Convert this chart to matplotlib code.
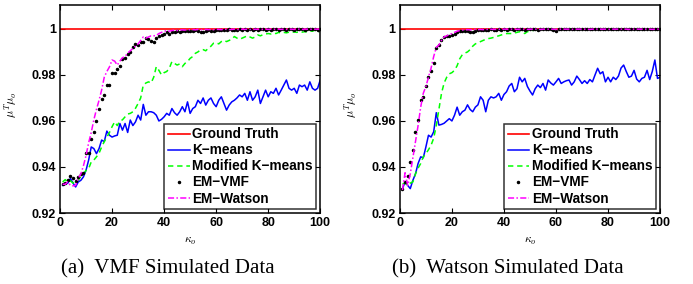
import matplotlib
matplotlib.use("Agg")
import matplotlib.pyplot as plt
import numpy as np

plt.rcParams['font.family'] = ['Liberation Sans', 'DejaVu Sans']
plt.rcParams['mathtext.fontset'] = 'cm'

kappa = list(range(1, 101))

# ---------------- (a) VMF simulated data ----------------
vmf_kmeans = [
    .932, .9325, .933, .935, .933, .9313, .9335, .9342, .9357, .9386,
    .943, .9487, .948, .9458, .948, .9517, .951, .9556, .9538, .953,
    .9535, .9538, .9589, .956, .9589, .955, .9604, .958, .9596, .9625,
    .9604, .9672, .9625, .964, .964, .9636, .9625, .960, .9607, .9618,
    .9633, .9625, .9654, .9636, .9625, .964, .9662, .964, .9683, .9633,
    .9654, .9662, .969, .9676, .970, .9669, .969, .970, .9676, .9662,
    .969, .9705, .9676, .9647, .9669, .9683, .969, .970, .9713, .9705,
    .972, .969, .9727, .969, .9705, .9734, .9676, .9705, .9734, .9705,
    .9727, .972, .9742, .9713, .9734, .9756, .9778, .9742, .9734, .9742,
    .972, .9756, .9749, .9756, .9734, .977, .9742, .9734, .9742, .9778]
vmf_modkmeans = [
    .9335, .9345, .9335, .934, .933, .934, .9342, .936, .937, .9385,
    .9393, .9422, .943, .9444, .946, .9487, .951, .953, .955, .9575,
    .9596, .958, .960, .9605, .9618, .963, .9633, .964, .9655, .9676,
    .970, .9756, .9765, .977, .9765, .979, .9836, .982, .980, .981,
    .9815, .9829, .9858, .985, .9843, .9848, .9836, .985, .9858, .9872,
    .988, .9894, .990, .9909, .991, .9905, .9916, .9925, .9938, .994,
    .9935, .9945, .995, .9945, .995, .9955, .9967, .996, .9955, .996,
    .9965, .997, .9965, .996, .9965, .9974, .997, .9975, .9978, .998,
    .9978, .9982, .998, .9985, .9982, .9985, .9983, .9986, .9984, .9987,
    .9985, .9988, .9986, .9988, .9987, .999, .999, .9995, .9985, .999]
vmf_emvmf = [
    .9325, .933, .9345, .936, .935, .934, .9355, .937, .9375, .946,
    .946, .952, .955, .960, .965, .9695, .9715, .9755, .9758, .981,
    .981, .9825, .984, .987, .9875, .989, .990, .992, .9935, .993,
    .9945, .9945, .996, .9955, .9948, .9945, .996, .997, .9974, .998,
    .9985, .998, .9985, .9985, .999, .9985, .999, .9993, .999, .9992,
    .999, .9995, .9993, .9988, .9985, .9992, .9995, .999, .9993, .9996,
    .9994, .9997, .9995, .9996, .9998, .9995, .9997, .9996, .9998, .9997,
    .9998, .9996, .9999, .9997, .9998, .9996, .9998, .9999, .9997, .9998,
    .9996, .9999, .9998, .9997, .9999, .9998, .9996, .9999, .9998, .9997,
    .9999, .9998, .9999, .9997, .9998, .9999, .9998, .9999, .9997, .9999]
vmf_emwatson = [
    .9325, .9325, .9335, .932, .9318, .932, .935, .937, .9405, .945,
    .9505, .955, .9605, .965, .969, .9735, .979, .9815, .9835, .9865,
    .986, .9843, .986, .9875, .988, .9895, .9905, .9915, .9925, .9935,
    .995, .9965, .996, .9965, .997, .997, .9972, .998, .9985, .999,
    .9992, .999, .9993, .9995, .9993, .9995, .9996, .9995, .9997, .9996,
    .9997, .9996, .9998, .9997, .9996, .9998, .9997, .9998, .9997, .9998,
    .9998, .9997, .9999, .9998, .9997, .9998, .9999, .9998, .9997, .9999,
    .9998, .9999, .9998, .9997, .9999, .9998, .9999, .9998, .9999, .9998,
    .9999, .9998, .9999, .9999, .9998, .9999, .9998, .9999, .9999, .9998,
    .9999, .9999, .9998, .9999, .9999, .9999, .9998, .9999, .9999, .9999]

# ---------------- (b) Watson simulated data ----------------
wat_kmeans = [
    .9306, .9335, .932, .9306, .9342, .937, .9415, .9444, .944, .9487,
    .9538, .953, .9553, .9636, .9582, .9585, .959, .960, .961, .960,
    .9625, .966, .9625, .964, .9647, .967, .965, .964, .966, .967,
    .9705, .969, .964, .969, .9705, .970, .9705, .972, .969, .9715,
    .9727, .9752, .9763, .9727, .974, .979, .977, .9785, .975, .973,
    .9713, .974, .9756, .9745, .9763, .9734, .9778, .9765, .9756, .977,
    .9785, .9763, .977, .9775, .9778, .9756, .977, .9795, .978, .9763,
    .9775, .9763, .978, .977, .980, .9829, .9805, .9814, .977, .979,
    .977, .979, .978, .9795, .983, .9843, .9815, .979, .9795, .982,
    .9782, .977, .9785, .979, .982, .978, .9815, .9865, .9785, .979]
wat_modkmeans = [
    .9325, .933, .932, .933, .9335, .937, .9395, .9415, .9444, .9458,
    .9475, .9495, .9525, .958, .965, .972, .9765, .979, .9805, .981,
    .982, .984, .987, .9888, .9895, .990, .991, .9925, .9935, .994,
    .9945, .995, .9955, .9958, .996, .9963, .9967, .997, .9974, .9977,
    .998, .998, .998, .9982, .9985, .9988, .9985, .998, .9988, .999,
    .9993, .9995, .9997, .9998, .9998, .9999, .9998, .9999, .9999, .9998,
    .9999, .9999, .9998, .9999, .9999, .9999, .9998, .9999, .9999, .9999,
    .9999, .9998, .9999, .9999, .9999, .9999, .9998, .9999, .9999, .9999,
    .9999, .9999, .9998, .9999, .9999, .9999, .9999, .9999, .9998, .9999,
    .9999, .9999, .9999, .9999, .9999, .9998, .9999, .9999, .9999, .9999]
wat_emvmf = [
    .9305, .9335, .936, .942, .9475, .955, .9605, .969, .9705, .975,
    .979, .9815, .985, .9915, .993, .995, .9965, .997, .9968, .9975,
    .998, .9985, .999, .9993, .9992, .999, .9988, .9985, .999, .9995,
    .9996, .9995, .9997, .9996, .9998, .9997, .9996, .9998, .9997, .9998,
    .9997, .9998, .9999, .9997, .9998, .9999, .9998, .9997, .9999, .9998,
    .9999, .9998, .9997, .9999, .9998, .9999, .9998, .9999, .9997, .9993,
    .9998, .9999, .9998, .9999, .9999, .9998, .9999, .9998, .9999, .9999,
    .9998, .9999, .9999, .9998, .9999, .9999, .9999, .9998, .9999, .9999,
    .9999, .9998, .9999, .9999, .9999, .9999, .9998, .9999, .9999, .9999,
    .9999, .9999, .9998, .9999, .9999, .9999, .9999, .9999, .9998, .9999]
wat_emwatson = [
    .930, .9375, .932, .937, .944, .951, .958, .966, .972, .975,
    .979, .983, .988, .992, .993, .995, .9965, .997, .9975, .998,
    .9985, .999, .9993, .9995, .9996, .9997, .9996, .9997, .9998, .9997,
    .9998, .9997, .9998, .9998, .9999, .9998, .9998, .9999, .9998, .9999,
    .9999, .9998, .9999, .9999, .9998, .9999, .9999, .9999, .9998, .9999,
    .9999, .9999, .9999, .9998, .9999, .9999, .9999, .9999, .9999, .9998,
    .9999, .9999, .9999, .9999, .9999, .9998, .9999, .9999, .9999, .9999,
    .9999, .9999, .9998, .9999, .9999, .9999, .9999, .9999, .9999, .9998,
    .9999, .9999, .9999, .9999, .9999, .9999, .9999, .9998, .9999, .9999,
    .9999, .9999, .9999, .9999, .9999, .9999, .9998, .9999, .9999, .9999]

ground_truth = 1.0
legend_labels = ["Ground Truth", "K\u2212means", "Modified K\u2212means",
                 "EM\u2212VMF", "EM\u2212Watson"]
captions = ["(a)  VMF Simulated Data", "(b)  Watson Simulated Data"]
xticks = [0, 20, 40, 60, 80, 100]
yticks = [0.92, 0.94, 0.96, 0.98, 1.0]
yticklabels = ["0.92", "0.94", "0.96", "0.98", "1"]

fig = plt.figure(figsize=(6.93, 2.84), dpi=100)
positions = [[0.0866, 0.25, 0.3755, 0.7324], [0.577, 0.25, 0.3755, 0.7324]]
datasets = [(vmf_kmeans, vmf_modkmeans, vmf_emvmf, vmf_emwatson),
            (wat_kmeans, wat_modkmeans, wat_emvmf, wat_emwatson)]
caption_x = [168 / 693, 508 / 693]

for pos, (km, mkm, evmf, ewat), cx, cap in zip(positions, datasets, caption_x, captions):
    ax = fig.add_axes(pos)
    ax.plot([0, 100], [ground_truth, ground_truth], color='#ff0000', lw=1.2,
            label=legend_labels[0])
    ax.plot(kappa, km, color='#0000ff', lw=1.1, label=legend_labels[1])
    ax.plot(kappa, mkm, color='#00ff00', lw=1.1, ls=(0, (3.5, 2.5)),
            label=legend_labels[2])
    ax.plot(kappa, evmf, ls='none', marker='.', ms=3.0, color='black',
            label=legend_labels[3])
    ax.plot(kappa, ewat, color='#ff00ff', lw=1.1, ls=(0, (4, 1.5, 1, 1.5)),
            label=legend_labels[4])
    ax.set_xlim(0, 100)
    ax.set_ylim(0.92, 1.0104)
    ax.set_xticks(xticks)
    ax.set_yticks(yticks)
    ax.set_yticklabels(yticklabels)
    ax.tick_params(direction='in', top=True, right=True, length=3.5, width=0.8,
                   labelsize=9, pad=3)
    for lab in ax.get_xticklabels() + ax.get_yticklabels():
        lab.set_fontweight('bold')
    for sp in ax.spines.values():
        sp.set_linewidth(1.1)
    ax.set_xlabel(r'$\kappa_o$', fontsize=8.5)
    ax.xaxis.set_label_coords(0.5, -0.105)
    ax.set_ylabel(r'$\mu^T\mu_o$', fontsize=8.5)
    ax.yaxis.set_label_coords(-0.158, 0.52)
    leg = ax.legend(loc='lower right', prop={'weight': 'bold', 'size': 9.8},
                    frameon=True, fancybox=False, edgecolor='black',
                    handlelength=1.6, handletextpad=0.2, borderpad=0.25,
                    labelspacing=0.15, borderaxespad=0.3, numpoints=1)
    leg.get_frame().set_linewidth(1.1)
    fig.text(cx, 1 - 269 / 284, cap, ha='center', va='center',
             fontsize=15, family='Liberation Serif')

fig.savefig('out.png', dpi=100)
